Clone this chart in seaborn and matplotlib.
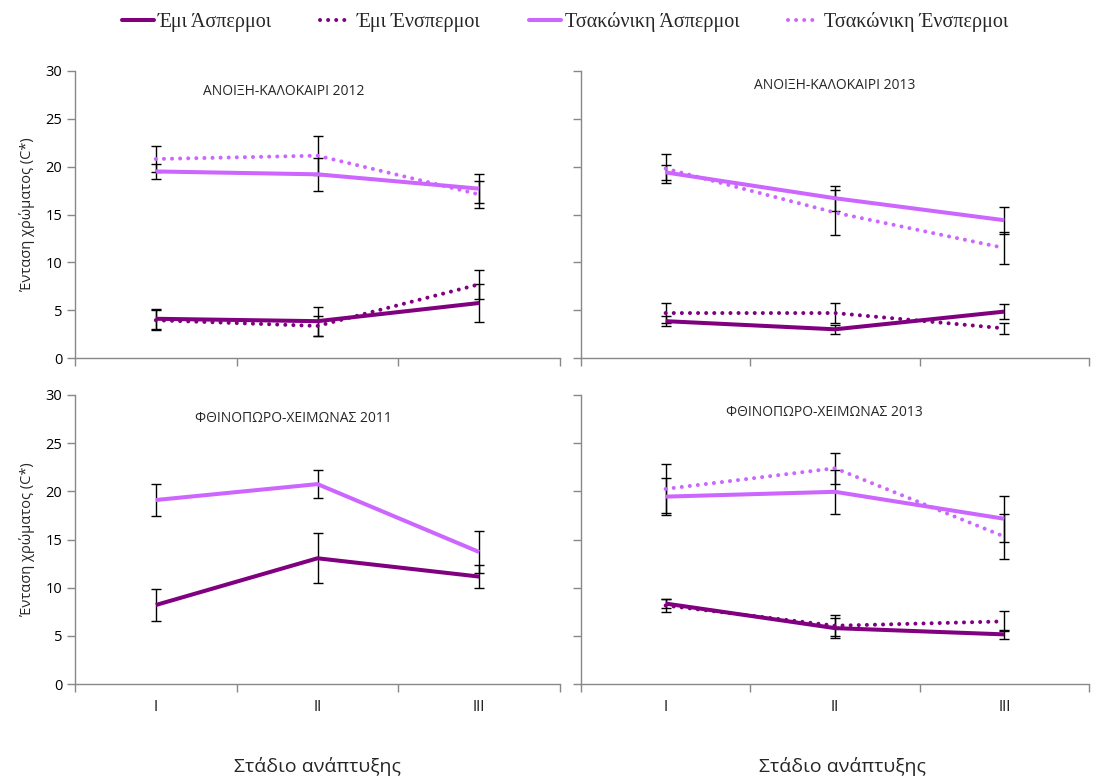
import matplotlib
matplotlib.use("Agg")
import matplotlib.pyplot as plt
import seaborn as sns
import numpy as np
import pandas as pd
from matplotlib.lines import Line2D

# ---------------- data ----------------
stages = ["I", "II", "III"]
series_names = ["Έμι Άσπερμοι", "Έμι Ένσπερμοι", "Τσακώνικη Άσπερμοι", "Τσακώνικη Ένσπερμοι"]
panel_titles = ["ΑΝΟΙΞΗ-ΚΑΛΟΚΑΙΡΙ 2012", "ΑΝΟΙΞΗ-ΚΑΛΟΚΑΙΡΙ 2013",
                "ΦΘΙΝΟΠΩΡΟ-ΧΕΙΜΩΝΑΣ 2011", "ΦΘΙΝΟΠΩΡΟ-ΧΕΙΜΩΝΑΣ 2013"]

# ΑΝΟΙΞΗ-ΚΑΛΟΚΑΙΡΙ 2012
ak12_emi_asp = [4.1, 3.85, 5.75]
ak12_emi_asp_err = [1.05, 1.5, 2.0]
ak12_emi_ens = [3.95, 3.35, 7.7]
ak12_emi_ens_err = [1.05, 1.05, 1.5]
ak12_tsa_asp = [19.5, 19.2, 17.7]
ak12_tsa_asp_err = [0.8, 1.7, 1.5]
ak12_tsa_ens = [20.8, 21.15, 17.1]
ak12_tsa_ens_err = [1.4, 2.05, 1.4]

# ΑΝΟΙΞΗ-ΚΑΛΟΚΑΙΡΙ 2013
ak13_emi_asp = [3.85, 3.0, 4.85]
ak13_emi_asp_err = [0.5, 0.5, 0.75]
ak13_emi_ens = [4.7, 4.7, 3.1]
ak13_emi_ens_err = [1.0, 1.0, 0.6]
ak13_tsa_asp = [19.4, 16.7, 14.4]
ak13_tsa_asp_err = [0.8, 1.3, 1.4]
ak13_tsa_ens = [19.8, 15.2, 11.5]
ak13_tsa_ens_err = [1.55, 2.35, 1.65]

# ΦΘΙΝΟΠΩΡΟ-ΧΕΙΜΩΝΑΣ 2011
fx11_emi_asp = [8.2, 13.05, 11.15]
fx11_emi_asp_err = [1.7, 2.6, 1.2]
fx11_tsa_asp = [19.1, 20.75, 13.7]
fx11_tsa_asp_err = [1.65, 1.45, 2.2]

# ΦΘΙΝΟΠΩΡΟ-ΧΕΙΜΩΝΑΣ 2013
fx13_emi_asp = [8.35, 5.8, 5.15]
fx13_emi_asp_err = [0.5, 1.0, 0.5]
fx13_emi_ens = [8.15, 6.05, 6.5]
fx13_emi_ens_err = [0.7, 1.1, 1.05]
fx13_tsa_asp = [19.45, 19.95, 17.15]
fx13_tsa_asp_err = [1.9, 2.3, 2.4]
fx13_tsa_ens = [20.25, 22.4, 15.3]
fx13_tsa_ens_err = [2.55, 1.6, 2.35]

panels = [
    {series_names[0]: (ak12_emi_asp, ak12_emi_asp_err), series_names[1]: (ak12_emi_ens, ak12_emi_ens_err),
     series_names[2]: (ak12_tsa_asp, ak12_tsa_asp_err), series_names[3]: (ak12_tsa_ens, ak12_tsa_ens_err)},
    {series_names[0]: (ak13_emi_asp, ak13_emi_asp_err), series_names[1]: (ak13_emi_ens, ak13_emi_ens_err),
     series_names[2]: (ak13_tsa_asp, ak13_tsa_asp_err), series_names[3]: (ak13_tsa_ens, ak13_tsa_ens_err)},
    {series_names[0]: (fx11_emi_asp, fx11_emi_asp_err), series_names[2]: (fx11_tsa_asp, fx11_tsa_asp_err)},
    {series_names[0]: (fx13_emi_asp, fx13_emi_asp_err), series_names[1]: (fx13_emi_ens, fx13_emi_ens_err),
     series_names[2]: (fx13_tsa_asp, fx13_tsa_asp_err), series_names[3]: (fx13_tsa_ens, fx13_tsa_ens_err)},
]

# ---------------- style ----------------
sns.set_theme(style="white")
plt.rcParams["font.family"] = ["Open Sans", "DejaVu Sans"]

DARK = "#800080"
LIGHT = "#CC66FF"
GRAY = "#888888"
colors = {series_names[0]: DARK, series_names[1]: DARK, series_names[2]: LIGHT, series_names[3]: LIGHT}
dotted = {series_names[0]: False, series_names[1]: True, series_names[2]: False, series_names[3]: True}
LW = 2.9
DOT = (0, (0.01, 2.0))

W, H = 1099, 778
fig = plt.figure(figsize=(W / 100, H / 100), dpi=100)

# axes boxes in pixels: (x0, x1, ytop, ybottom)
boxes = [(75, 560, 71, 358), (581, 1089, 71, 358), (75, 560, 395, 684), (581, 1089, 395, 684)]
title_pos = [(0.43, 0.93), (0.50, 0.95), (0.45, 0.92), (0.48, 0.94)]
axes = []
for i, (x0, x1, yt, yb) in enumerate(boxes):
    ax = fig.add_axes([x0 / W, 1 - yb / H, (x1 - x0) / W, (yb - yt) / H])
    axes.append(ax)
    data = panels[i]
    pos = np.arange(len(stages)) + 0.5
    for name, (vals, errs) in data.items():
        ax.errorbar(pos, vals, yerr=errs, fmt="none", ecolor="black",
                    elinewidth=1.0, capsize=3.5, capthick=1.0, zorder=3)
    for name, (vals, errs) in data.items():
        df = pd.DataFrame({"pos": pos, "value": vals})
        kw = dict(color=colors[name], linewidth=LW, zorder=4)
        if dotted[name]:
            kw.update(linestyle=DOT, dash_capstyle="round")
        else:
            kw.update(solid_capstyle="butt")
        sns.lineplot(data=df, x="pos", y="value", ax=ax, **kw)

    ax.set_xlim(0, 3)
    ax.set_ylim(0, 30)
    ax.set_xticks([0, 1, 2, 3])
    ax.set_xticklabels([])
    ax.set_yticks(np.arange(0, 31, 5))
    if i in (0, 2):
        ax.set_yticklabels([str(v) for v in range(0, 31, 5)], fontsize=10.5)
        ax.set_ylabel("Ένταση χρώματος (C*)", fontsize=10.5, labelpad=8)
    else:
        ax.set_yticklabels([])
        ax.set_ylabel("")
    ax.set_xlabel("")
    for s in ["top", "right"]:
        ax.spines[s].set_visible(False)
    for s in ["left", "bottom"]:
        ax.spines[s].set_color(GRAY)
        ax.spines[s].set_linewidth(1.0)
    ax.tick_params(axis="both", which="both", direction="out", length=6, width=1.0,
                   color=GRAY, left=True, bottom=True, pad=3, labelcolor="black")
    ax.grid(False)
    ax.text(title_pos[i][0], title_pos[i][1], panel_titles[i], transform=ax.transAxes,
            ha="center", va="center", fontsize=10)
    if i >= 2:
        for p, lab in zip(pos, stages):
            ax.text(p, -0.08, lab, transform=ax.get_xaxis_transform(),
                    ha="center", va="center", fontsize=10.5, family=["Lato", "DejaVu Sans"])
        ax.text(0.5 if i == 2 else 0.515, -0.285, "Στάδιο ανάπτυξης", transform=ax.transAxes,
                ha="center", va="center", fontsize=14)

# legend
handles = []
for name in series_names:
    if dotted[name]:
        h = Line2D([], [], color=colors[name], linewidth=LW, linestyle=DOT, dash_capstyle="round")
    else:
        h = Line2D([], [], color=colors[name], linewidth=LW)
    handles.append(h)
fig.legend(handles, series_names, loc="center", bbox_to_anchor=(0.514, 0.972), ncol=4,
           frameon=False, prop={"family": ["Liberation Serif"], "size": 14.5},
           handlelength=1.6, handletextpad=0.2, columnspacing=2.4)

fig.savefig("out.png", dpi=100)
